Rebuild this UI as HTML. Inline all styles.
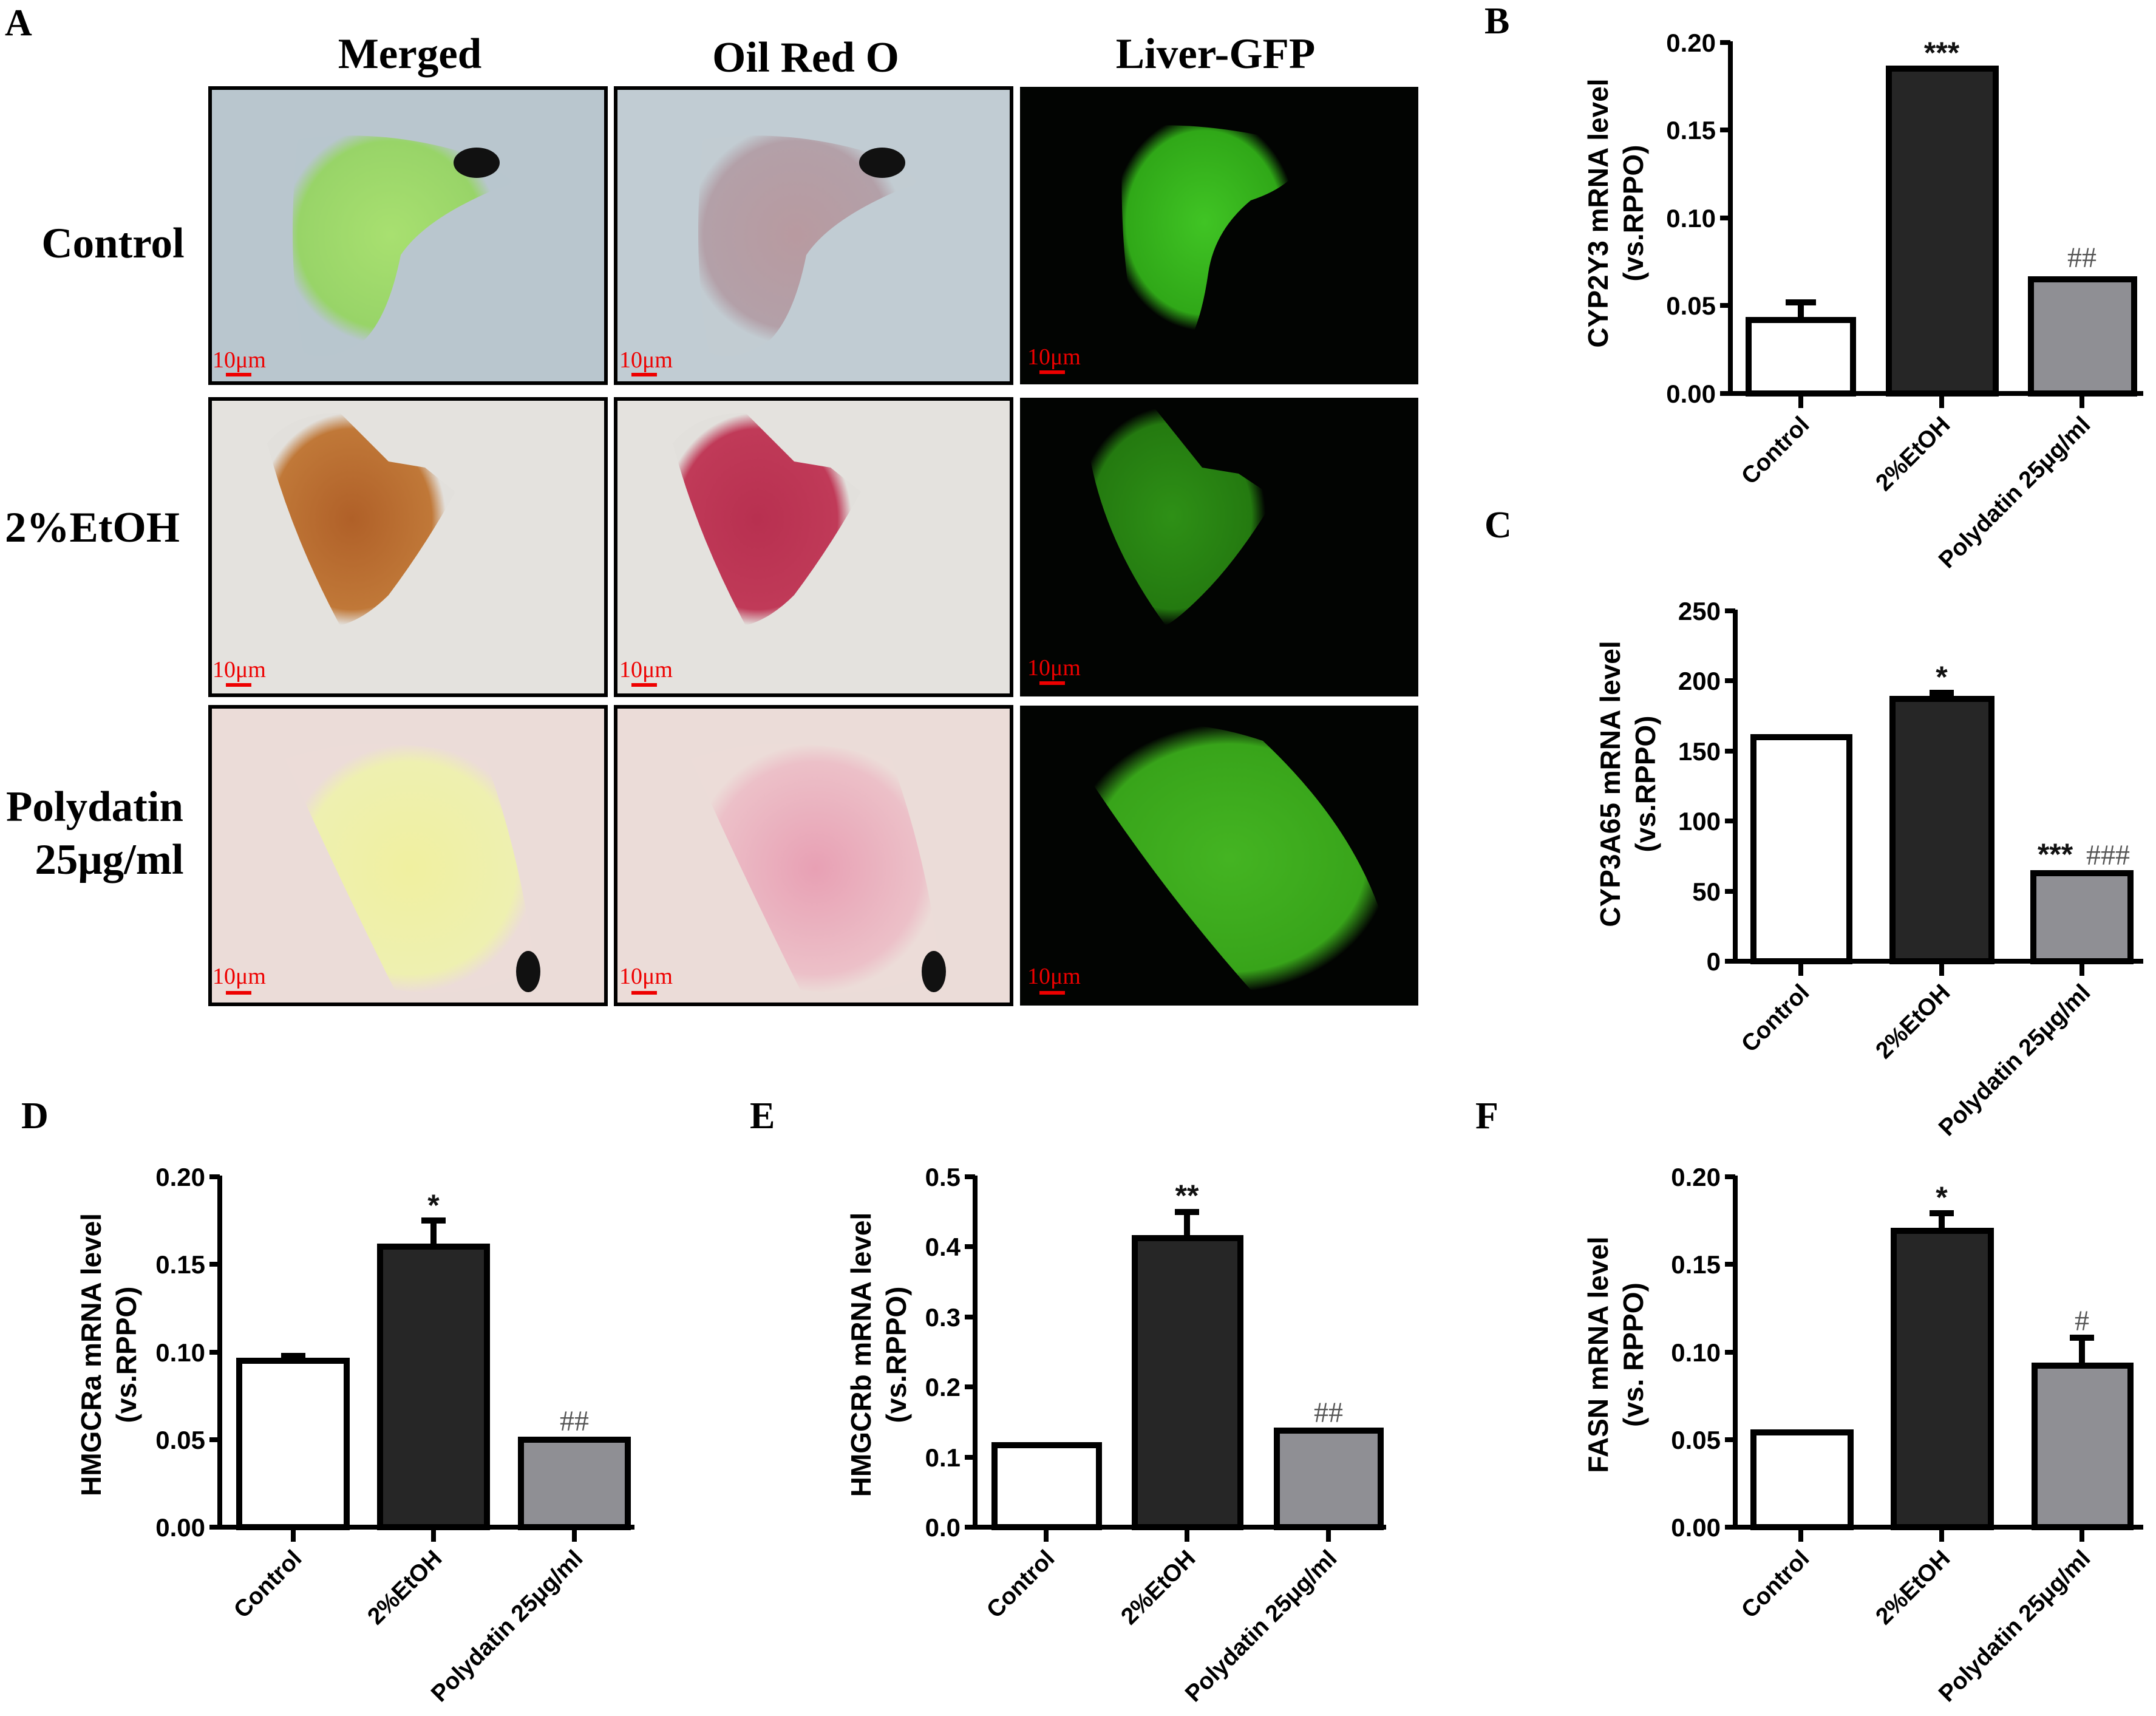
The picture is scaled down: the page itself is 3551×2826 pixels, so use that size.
<!DOCTYPE html>
<html><head><meta charset="utf-8"><style>
html,body{margin:0;padding:0;background:#fff;}
svg{display:block;}
.t{font-family:"Liberation Sans",Arial,sans-serif;font-weight:bold;font-size:42px;fill:#000;}
.yl{font-family:"Liberation Sans",Arial,sans-serif;font-weight:bold;font-size:46px;fill:#000;}
.xl{font-family:"Liberation Sans",Arial,sans-serif;font-weight:bold;font-size:39px;fill:#000;}
.pl{font-family:"Liberation Serif",serif;font-weight:bold;font-size:62px;fill:#000;}
.hd{font-family:"Liberation Serif",serif;font-weight:bold;font-size:71px;fill:#000;}
.an{font-family:"Liberation Sans",sans-serif;font-weight:bold;font-size:50px;fill:#111;}
.hs{font-family:"Liberation Serif",serif;font-size:48px;fill:#555;}
.sb{font-family:"Liberation Serif",serif;font-size:38px;fill:#e00;}
</style></head><body>
<svg width="3551" height="2826" viewBox="0 0 3551 2826" xmlns="http://www.w3.org/2000/svg">
<defs>
<radialGradient id="gC" cx="0.45" cy="0.45" r="0.5"><stop offset="0" stop-color="#a8e070"/><stop offset="0.85" stop-color="#98d468"/><stop offset="1" stop-color="#b8c6ce"/></radialGradient>
<radialGradient id="oC" cx="0.45" cy="0.45" r="0.5"><stop offset="0" stop-color="#b89aa0"/><stop offset="0.85" stop-color="#b3a0a8"/><stop offset="1" stop-color="#c2ccd2"/></radialGradient>
<radialGradient id="gfp1" cx="0.45" cy="0.45" r="0.5"><stop offset="0" stop-color="#40c424"/><stop offset="0.85" stop-color="#30a818"/><stop offset="1" stop-color="#020402"/></radialGradient>
<radialGradient id="gfp2" cx="0.45" cy="0.5" r="0.5"><stop offset="0" stop-color="#2e9016"/><stop offset="0.85" stop-color="#247a10"/><stop offset="1" stop-color="#020402"/></radialGradient>
<radialGradient id="gfp3" cx="0.5" cy="0.5" r="0.5"><stop offset="0" stop-color="#44b422"/><stop offset="0.85" stop-color="#38a41a"/><stop offset="1" stop-color="#020402"/></radialGradient>
<radialGradient id="m2" cx="0.45" cy="0.5" r="0.5"><stop offset="0" stop-color="#b06028"/><stop offset="0.85" stop-color="#c07838"/><stop offset="1" stop-color="#e2e0dc"/></radialGradient>
<radialGradient id="o2" cx="0.45" cy="0.5" r="0.5"><stop offset="0" stop-color="#b83050"/><stop offset="0.85" stop-color="#c03a58"/><stop offset="1" stop-color="#e2e0dc"/></radialGradient>
<radialGradient id="m3" cx="0.5" cy="0.5" r="0.5"><stop offset="0" stop-color="#f0f0a0"/><stop offset="0.85" stop-color="#eef0b0"/><stop offset="1" stop-color="#ecdcd8"/></radialGradient>
<radialGradient id="o3" cx="0.5" cy="0.5" r="0.5"><stop offset="0" stop-color="#e8a0b4"/><stop offset="0.85" stop-color="#ecc0c8"/><stop offset="1" stop-color="#ecdcd8"/></radialGradient>
</defs>

<text class="pl" x="8" y="58">A</text>
<text class="hd" x="675" y="112" text-anchor="middle">Merged</text>
<text class="hd" x="1327" y="118" text-anchor="middle">Oil Red O</text>
<text class="hd" x="2002" y="112" text-anchor="middle">Liver-GFP</text>
<text class="hd" x="186" y="424" text-anchor="middle">Control</text>
<text class="hd" x="152" y="892" text-anchor="middle">2%EtOH</text>
<text class="hd" x="156" y="1352" text-anchor="middle">Polydatin</text>
<text class="hd" x="180" y="1439" text-anchor="middle">25μg/ml</text>

<!-- row 1 -->
<rect x="346" y="145" width="652" height="486" fill="#b9c6ce" stroke="#000" stroke-width="6"/>
<path d="M490 230 Q620 210 760 250 L800 275 Q870 300 820 310 Q700 360 660 420 Q640 520 600 560 Q540 600 500 580 Q470 430 490 230Z" fill="url(#gC)"/>
<ellipse cx="785" cy="268" rx="38" ry="25" fill="#111"/>
<rect x="1014" y="145" width="652" height="486" fill="#c1ccd3" stroke="#000" stroke-width="6"/>
<path d="M1158 230 Q1288 210 1428 250 L1468 275 Q1538 300 1488 310 Q1368 360 1328 420 Q1308 520 1268 560 Q1208 600 1168 580 Q1138 430 1158 230Z" fill="url(#oC)"/>
<ellipse cx="1453" cy="268" rx="38" ry="25" fill="#111"/>
<rect x="1680" y="143" width="656" height="490" fill="#020402"/>
<path d="M1850 210 Q1980 195 2150 240 Q2150 300 2060 330 Q2000 380 1990 450 Q1980 520 1960 560 Q1900 570 1870 540 Q1840 400 1850 210Z" fill="url(#gfp1)"/>
<!-- row 2 -->
<rect x="346" y="657" width="652" height="488" fill="#e4e2de" stroke="#000" stroke-width="6"/>
<path d="M440 730 Q480 680 560 680 L600 720 L640 760 L700 770 L750 810 Q700 900 640 980 Q600 1020 560 1030 Q480 880 440 730Z" fill="url(#m2)"/>
<rect x="1014" y="657" width="652" height="488" fill="#e4e2de" stroke="#000" stroke-width="6"/>
<path d="M1108 730 Q1148 680 1228 680 L1268 720 L1308 760 L1368 770 L1418 810 Q1368 900 1308 980 Q1268 1020 1228 1030 Q1148 880 1108 730Z" fill="url(#o2)"/>
<rect x="1680" y="655" width="656" height="492" fill="#020402"/>
<path d="M1790 720 Q1830 670 1900 670 L1940 720 L1980 770 L2040 780 L2100 820 Q2040 920 1980 980 Q1940 1020 1920 1030 Q1810 880 1790 720Z" fill="url(#gfp2)"/>
<!-- row 3 -->
<rect x="346" y="1164" width="652" height="490" fill="#ebdcd8" stroke="#000" stroke-width="6"/>
<path d="M470 1250 Q620 1200 800 1250 Q860 1420 880 1590 Q780 1650 650 1630 Q560 1450 470 1250Z" fill="url(#m3)"/>
<ellipse cx="870" cy="1600" rx="20" ry="34" fill="#111"/>
<rect x="1014" y="1164" width="652" height="490" fill="#ebdcd8" stroke="#000" stroke-width="6"/>
<path d="M1138 1250 Q1288 1200 1468 1250 Q1528 1420 1548 1590 Q1448 1650 1318 1630 Q1228 1450 1138 1250Z" fill="url(#o3)"/>
<ellipse cx="1538" cy="1600" rx="20" ry="34" fill="#111"/>
<rect x="1680" y="1162" width="656" height="494" fill="#020402"/>
<path d="M1760 1230 Q1900 1160 2080 1220 Q2250 1380 2290 1560 Q2180 1650 2060 1630 Q1900 1450 1760 1230Z" fill="url(#gfp3)"/>

<!-- scale bars -->
<g class="sb">
<text x="350" y="605">10μm</text><rect x="372" y="614" width="42" height="6" fill="#e00"/>
<text x="1020" y="605">10μm</text><rect x="1040" y="614" width="42" height="6" fill="#e00"/>
<text x="1692" y="600">10μm</text><rect x="1712" y="610" width="42" height="6" fill="#e00"/>
<text x="350" y="1115">10μm</text><rect x="372" y="1125" width="42" height="6" fill="#e00"/>
<text x="1020" y="1115">10μm</text><rect x="1040" y="1125" width="42" height="6" fill="#e00"/>
<text x="1692" y="1112">10μm</text><rect x="1712" y="1122" width="42" height="6" fill="#e00"/>
<text x="350" y="1620">10μm</text><rect x="372" y="1632" width="42" height="6" fill="#e00"/>
<text x="1020" y="1620">10μm</text><rect x="1040" y="1632" width="42" height="6" fill="#e00"/>
<text x="1692" y="1620">10μm</text><rect x="1712" y="1632" width="42" height="6" fill="#e00"/>
</g>

<!-- ===== B ===== -->
<text class="pl" x="2445" y="55">B</text>
<g stroke="#000" stroke-width="8" fill="none">
<path d="M2850 68 V648 H3530"/>
<path d="M2833 70 H2850 M2833 214 H2850 M2833 359 H2850 M2833 503 H2850 M2833 648 H2850"/>
<path d="M2966 648 V672 M3198 648 V672 M3429 648 V672"/>
</g>
<g class="t" text-anchor="end"><text x="2826" y="85">0.20</text><text x="2826" y="229">0.15</text><text x="2826" y="374">0.10</text><text x="2826" y="518">0.05</text><text x="2826" y="663">0.00</text></g>
<g stroke="#000" stroke-width="10"><rect x="2880" y="527" width="172" height="121" fill="#fff"/><rect x="3111" y="113" width="176" height="535" fill="#262626"/><rect x="3345" y="460" width="170" height="188" fill="#8f8f94"/></g>
<path d="M2966 527 V498 M2941 498 H2991" stroke="#000" stroke-width="10"/>
<text class="an" x="3198" y="104" text-anchor="middle">***</text>
<text class="hs" x="3429" y="440" text-anchor="middle">##</text>
<text class="yl" transform="translate(2648,351) rotate(-90)" text-anchor="middle">CYP2Y3 mRNA level</text>
<text class="yl" transform="translate(2706,351) rotate(-90)" text-anchor="middle">(vs.RPPO)</text>
<g class="xl" text-anchor="end"><text transform="translate(2982,702) rotate(-45)">Control</text><text transform="translate(3214,702) rotate(-45)">2%EtOH</text><text transform="translate(3445,702) rotate(-45)">Polydatin 25μg/ml</text></g>

<!-- ===== C ===== -->
<text class="pl" x="2445" y="885">C</text>
<g stroke="#000" stroke-width="8" fill="none">
<path d="M2858 1004 V1583 H3530"/>
<path d="M2841 1006 H2858 M2841 1121 H2858 M2841 1237 H2858 M2841 1352 H2858 M2841 1468 H2858 M2841 1583 H2858"/>
<path d="M2966 1583 V1607 M3198 1583 V1607 M3429 1583 V1607"/>
</g>
<g class="t" text-anchor="end"><text x="2834" y="1021">250</text><text x="2834" y="1136">200</text><text x="2834" y="1252">150</text><text x="2834" y="1367">100</text><text x="2834" y="1483">50</text><text x="2834" y="1598">0</text></g>
<g stroke="#000" stroke-width="10"><rect x="2888" y="1214" width="158" height="369" fill="#fff"/><rect x="3117" y="1151" width="163" height="432" fill="#262626"/><rect x="3349" y="1438" width="160" height="145" fill="#8f8f94"/></g>
<path d="M3198 1151 V1141 M3178 1141 H3218" stroke="#000" stroke-width="10"/>
<text class="an" x="3198" y="1132" text-anchor="middle">*</text>
<text class="an" x="3385" y="1424" text-anchor="middle">***</text>
<text class="hs" x="3472" y="1424" text-anchor="middle">###</text>
<text class="yl" transform="translate(2668,1291) rotate(-90)" text-anchor="middle">CYP3A65 mRNA level</text>
<text class="yl" transform="translate(2726,1291) rotate(-90)" text-anchor="middle">(vs.RPPO)</text>
<g class="xl" text-anchor="end"><text transform="translate(2982,1637) rotate(-45)">Control</text><text transform="translate(3214,1637) rotate(-45)">2%EtOH</text><text transform="translate(3445,1637) rotate(-45)">Polydatin 25μg/ml</text></g>

<!-- ===== D ===== -->
<text class="pl" x="35" y="1858">D</text>
<g stroke="#000" stroke-width="8" fill="none">
<path d="M362 1936 V2515 H1045"/>
<path d="M345 1938 H362 M345 2082 H362 M345 2227 H362 M345 2371 H362 M345 2515 H362"/>
<path d="M483 2515 V2539 M714 2515 V2539 M946 2515 V2539"/>
</g>
<g class="t" text-anchor="end"><text x="338" y="1953">0.20</text><text x="338" y="2097">0.15</text><text x="338" y="2242">0.10</text><text x="338" y="2386">0.05</text><text x="338" y="2530">0.00</text></g>
<g stroke="#000" stroke-width="10"><rect x="394" y="2241" width="177" height="274" fill="#fff"/><rect x="626" y="2053" width="176" height="462" fill="#262626"/><rect x="858" y="2371" width="176" height="144" fill="#8f8f94"/></g>
<path d="M483 2241 V2233 M463 2233 H503 M714 2053 V2010 M694 2010 H734" stroke="#000" stroke-width="10"/>
<text class="an" x="714" y="2002" text-anchor="middle">*</text>
<text class="hs" x="946" y="2356" text-anchor="middle">##</text>
<text class="yl" transform="translate(166,2231) rotate(-90)" text-anchor="middle">HMGCRa mRNA level</text>
<text class="yl" transform="translate(224,2231) rotate(-90)" text-anchor="middle">(vs.RPPO)</text>
<g class="xl" text-anchor="end"><text transform="translate(499,2569) rotate(-45)">Control</text><text transform="translate(730,2569) rotate(-45)">2%EtOH</text><text transform="translate(962,2569) rotate(-45)">Polydatin 25μg/ml</text></g>

<!-- ===== E ===== -->
<text class="pl" x="1235" y="1858">E</text>
<g stroke="#000" stroke-width="8" fill="none">
<path d="M1606 1936 V2515 H2283"/>
<path d="M1589 1938 H1606 M1589 2053 H1606 M1589 2169 H1606 M1589 2284 H1606 M1589 2400 H1606 M1589 2515 H1606"/>
<path d="M1723 2515 V2539 M1955 2515 V2539 M2188 2515 V2539"/>
</g>
<g class="t" text-anchor="end"><text x="1582" y="1953">0.5</text><text x="1582" y="2068">0.4</text><text x="1582" y="2184">0.3</text><text x="1582" y="2299">0.2</text><text x="1582" y="2415">0.1</text><text x="1582" y="2530">0.0</text></g>
<g stroke="#000" stroke-width="10"><rect x="1638" y="2380" width="172" height="135" fill="#fff"/><rect x="1869" y="2039" width="174" height="476" fill="#262626"/><rect x="2103" y="2356" width="171" height="159" fill="#8f8f94"/></g>
<path d="M1955 2039 V1996 M1935 1996 H1975" stroke="#000" stroke-width="10"/>
<text class="an" x="1955" y="1986" text-anchor="middle">**</text>
<text class="hs" x="2188" y="2342" text-anchor="middle">##</text>
<text class="yl" transform="translate(1434,2231) rotate(-90)" text-anchor="middle">HMGCRb mRNA level</text>
<text class="yl" transform="translate(1492,2231) rotate(-90)" text-anchor="middle">(vs.RPPO)</text>
<g class="xl" text-anchor="end"><text transform="translate(1739,2569) rotate(-45)">Control</text><text transform="translate(1971,2569) rotate(-45)">2%EtOH</text><text transform="translate(2204,2569) rotate(-45)">Polydatin 25μg/ml</text></g>

<!-- ===== F ===== -->
<text class="pl" x="2430" y="1858">F</text>
<g stroke="#000" stroke-width="8" fill="none">
<path d="M2858 1936 V2515 H3530"/>
<path d="M2841 1938 H2858 M2841 2082 H2858 M2841 2227 H2858 M2841 2371 H2858 M2841 2515 H2858"/>
<path d="M2966 2515 V2539 M3198 2515 V2539 M3429 2515 V2539"/>
</g>
<g class="t" text-anchor="end"><text x="2834" y="1953">0.20</text><text x="2834" y="2097">0.15</text><text x="2834" y="2242">0.10</text><text x="2834" y="2386">0.05</text><text x="2834" y="2530">0.00</text></g>
<g stroke="#000" stroke-width="10"><rect x="2888" y="2359" width="160" height="156" fill="#fff"/><rect x="3119" y="2027" width="160" height="488" fill="#262626"/><rect x="3351" y="2249" width="158" height="266" fill="#8f8f94"/></g>
<path d="M3198 2027 V1998 M3178 1998 H3218 M3429 2249 V2203 M3409 2203 H3449" stroke="#000" stroke-width="10"/>
<text class="an" x="3198" y="1989" text-anchor="middle">*</text>
<text class="hs" x="3429" y="2191" text-anchor="middle">#</text>
<text class="yl" transform="translate(2648,2231) rotate(-90)" text-anchor="middle">FASN mRNA level</text>
<text class="yl" transform="translate(2706,2231) rotate(-90)" text-anchor="middle">(vs. RPPO)</text>
<g class="xl" text-anchor="end"><text transform="translate(2982,2569) rotate(-45)">Control</text><text transform="translate(3214,2569) rotate(-45)">2%EtOH</text><text transform="translate(3445,2569) rotate(-45)">Polydatin 25μg/ml</text></g>
</svg>
</body></html>
